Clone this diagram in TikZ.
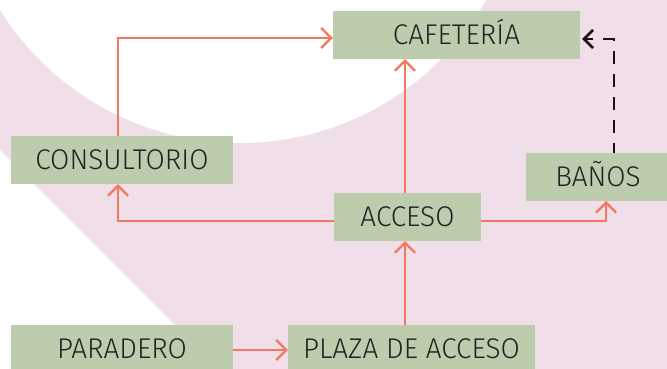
\documentclass[tikz,border=0pt]{standalone}
\usepackage{fontspec}
\setmainfont{Fira Sans Light}[FakeStretch=0.98]
\usetikzlibrary{arrows.meta}
\definecolor{bgpink}{RGB}{240,222,233}
\definecolor{boxgreen}{RGB}{190,204,174}
\definecolor{salmon}{RGB}{242,121,95}
\definecolor{txt}{RGB}{34,34,34}
\definecolor{dashc}{RGB}{30,14,18}
\begin{document}
\begin{tikzpicture}[x=1pt,y=-1pt,
  box/.style={fill=boxgreen, minimum width=#1, minimum height=48pt, inner sep=0pt,
    text=txt, font=\fontsize{28.5}{30}\selectfont, text height=19.5pt, text depth=0pt},
  link/.style={draw=salmon, line width=2.3pt, -{Straight Barb[length=10pt,width=20pt]}},
  dlink/.style={draw=dashc, line width=2.6pt, dash pattern=on 13pt off 10pt, dash phase=3pt,
    -{Straight Barb[length=9pt,width=18pt]}}]
\useasboundingbox (0,0) rectangle (667,369);
\begin{scope}
  \clip (0,0) rectangle (667,369);
  \fill[bgpink] (0,0) rectangle (667,369);
  \fill[white] (240,-140) circle (283pt);
  \fill[white] (0,150) -- (219,369) -- (0,369) -- cycle;
\end{scope}
\node[box=247pt] (caf) at (456.5,35) {CAFETERÍA};
\node[box=222pt] (cons) at (122,160) {CONSULTORIO};
\node[box=150pt] (banos) at (601,177) {\hspace*{-6pt}BAÑOS};
\node[box=147pt] (acc) at (407.5,217) {ACCESO};
\node[box=222pt] (par) at (122,349) {PARADERO};
\node[box=247pt] (plaza) at (411.5,349) {PLAZA DE ACCESO};
\coordinate (c1) at ([xshift=-4pt]cons.north);
\coordinate (c2) at ([yshift=-3pt]caf.west);
\draw[link] (c1) |- (c2);
\coordinate (a1) at ([xshift=-2.5pt]acc.north);
\draw[link] (a1) -- (a1 |- caf.south);
\coordinate (a2) at ([yshift=-4pt]acc.west);
\coordinate (c3) at ([xshift=-4pt]cons.south);
\draw[link] (a2) -| (c3);
\coordinate (a3) at ([yshift=-4pt]acc.east);
\coordinate (b1) at (606,201);
\draw[link] (a3) -| (b1);
\coordinate (p1) at ([xshift=-6.5pt]plaza.north);
\draw[link] (p1) -- (p1 |- acc.south);
\coordinate (r1) at ([yshift=-1pt]par.east);
\draw[link] (r1) -- (r1 -| plaza.west);
\coordinate (b2) at (614,153);
\coordinate (c4) at ([yshift=-4pt,xshift=2pt]caf.east);
\draw[dlink] (b2) |- (c4);
\end{tikzpicture}
\end{document}
